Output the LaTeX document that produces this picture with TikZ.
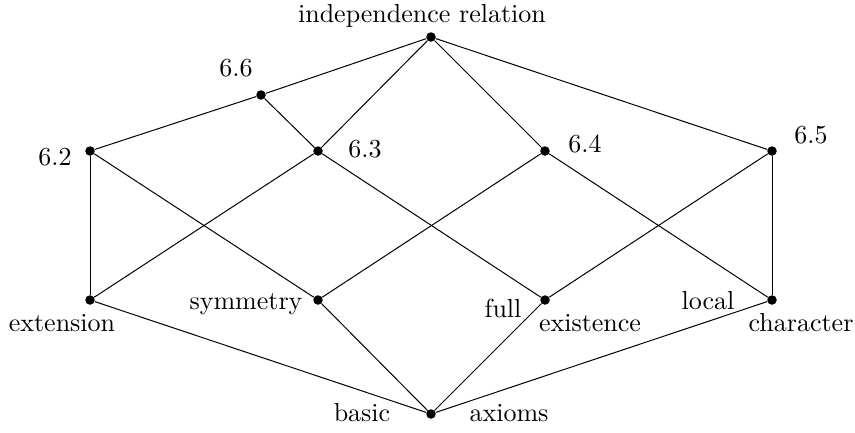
\documentclass[tikz,border=0pt]{standalone}
\begin{document}
\begin{tikzpicture}[x=1pt,y=-1pt,
  dot/.style={circle,fill=black,inner sep=0pt,minimum size=9.5pt},
  lbl/.style={inner sep=0pt,scale=2.6,font=\normalsize},
  edge/.style={line width=1pt}]
\useasboundingbox (0,0) rectangle (855,432);
\node[dot] (top) at (431,37) {};
\node[dot] (s66) at (261,95) {};
\node[dot] (s62) at (90,151) {};
\node[dot] (s63) at (318,151) {};
\node[dot] (s64) at (545,151) {};
\node[dot] (s65) at (772,151) {};
\node[dot] (ext) at (90,300) {};
\node[dot] (sym) at (318,300) {};
\node[dot] (full) at (545,300) {};
\node[dot] (loc) at (772,300) {};
\node[dot] (bas) at (431,414) {};
\node[lbl] (ltop) at (422,16) {independence relation};
\node[lbl] (l66) at (236,68) {6.6};
\node[lbl] (l62) at (55,157) {6.2};
\node[lbl] (l63) at (365,149) {6.3};
\node[lbl] (l64) at (585,144) {6.4};
\node[lbl] (l65) at (811,135.5) {6.5};
\node[lbl] (lext) at (62,323) {extension};
\node[lbl] (lsym) at (246,304.5) {symmetry};
\node[lbl] (lfull) at (503,308) {full};
\node[lbl] (lexi) at (590,323) {existence};
\node[lbl] (lloc) at (708,301) {local};
\node[lbl] (lchar) at (801,323) {character};
\node[lbl] (lbas) at (362,413) {basic};
\node[lbl] (lax) at (509,413) {axioms};
\draw[edge] (top) -- (s66);
\draw[edge] (top) -- (s63);
\draw[edge] (top) -- (s64);
\draw[edge] (top) -- (s65);
\draw[edge] (s66) -- (s62);
\draw[edge] (s66) -- (s63);
\draw[edge] (s62) -- (ext);
\draw[edge] (s62) -- (sym);
\draw[edge] (s63) -- (ext);
\draw[edge] (s63) -- (full);
\draw[edge] (s64) -- (sym);
\draw[edge] (s64) -- (loc);
\draw[edge] (s65) -- (full);
\draw[edge] (s65) -- (loc);
\draw[edge] (ext) -- (bas);
\draw[edge] (sym) -- (bas);
\draw[edge] (full) -- (bas);
\draw[edge] (loc) -- (bas);
\end{tikzpicture}
\end{document}
